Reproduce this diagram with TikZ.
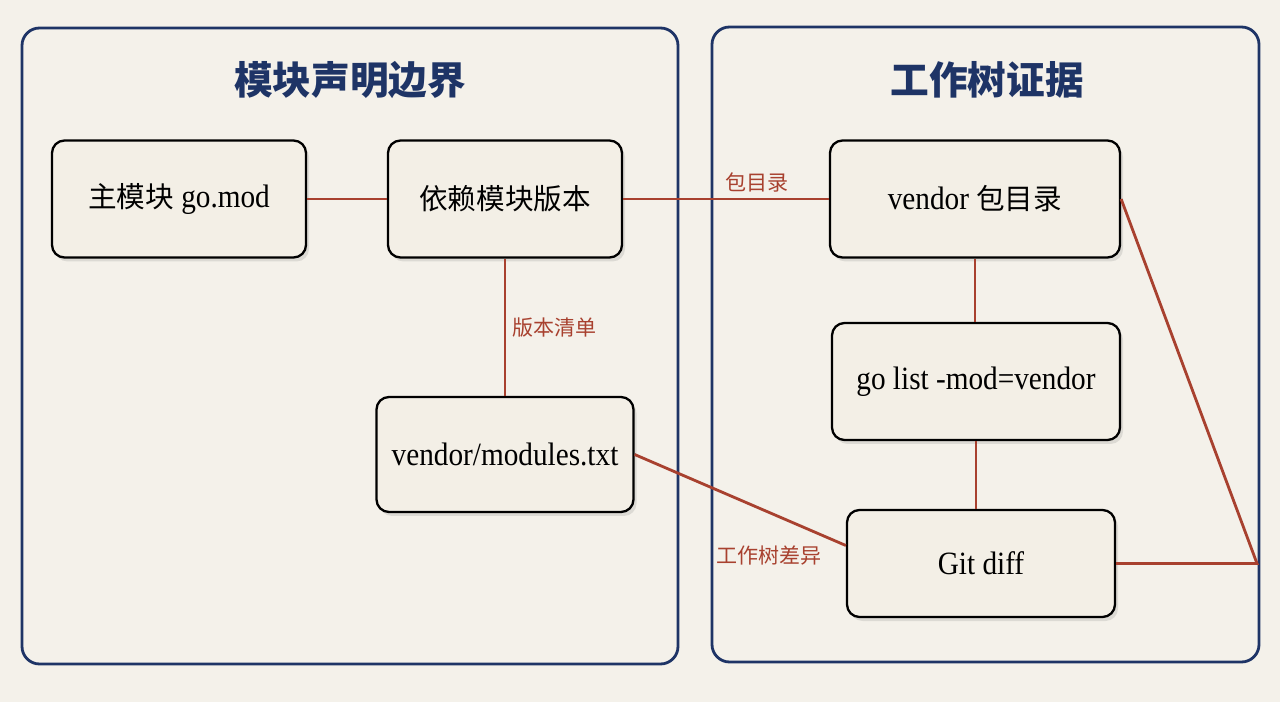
\documentclass[tikz,border=0pt]{standalone}
\usepackage{fontspec}
\setmainfont{Liberation Serif}[FakeStretch=0.9]
\newfontfamily\cjk{Noto Sans CJK SC}[Scale=0.88]
\usepackage{tikz}
\usetikzlibrary{
  calc,
  positioning,
  shadows
}
\definecolor{paper}{HTML}{F4F1EA}
\definecolor{cardfill}{HTML}{F3EFE6}
\definecolor{navy}{HTML}{1E3466}
\definecolor{rust}{HTML}{A8412F}

\begin{document}
\begin{tikzpicture}[
  box/.style={draw=black,line width=1.3,fill=cardfill,rounded corners=0.25cm,
    minimum height=2.34cm,align=center,font=\fontsize{18.5}{20}\selectfont,
    drop shadow={opacity=0.2,shadow xshift=0.06cm,shadow yshift=-0.08cm}},
  frame/.style={draw=navy,line width=1.6,rounded corners=0.35cm},
  link/.style={draw=rust,line width=1.6},
  tag/.style={text=rust,font=\cjk\fontsize{13.6}{15}\selectfont},
  title/.style={text=navy,font=\cjk\bfseries\fontsize{25}{28}\selectfont}
]
  \fill[paper] (0, 0) rectangle (25.6, -14.04);

  % the two panels
  \draw[frame] (0.44, -0.56) rectangle (13.56, -13.28);
  \draw[frame] (14.24, -0.54) rectangle (25.18, -13.24);
  \node[title] at (7.0, -1.6) (Left Title) {模块声明边界};
  \node[title] at (19.74, -1.6) (Right Title) {工作树证据};

  \node[box,minimum width=5.08cm] at (3.58, -3.98) (Main Mod) {{\cjk 主模块} go.mod};
  \node[box,minimum width=4.68cm] at (10.10, -3.98) (Dep Version) {{\cjk 依赖模块版本}};
  \node[box,minimum width=5.14cm,minimum height=2.30cm] at (10.10, -9.09) (Modules Txt) {vendor/modules.txt};

  \node[box,minimum width=5.80cm] at (19.50, -3.98) (Vendor Dir) {vendor {\cjk 包目录}};
  \node[box,minimum width=5.76cm] at (19.52, -7.63) (Go List) {go list -mod=vendor};
  \node[box,minimum width=5.36cm,minimum height=2.14cm] at (19.62, -11.27) (Git Diff) {Git diff};

  \coordinate (Corner) at (25.14, -11.27);

  \draw[link] (Main Mod) -- (Dep Version);
  \draw[link] (Dep Version) -- node[tag,above,pos=0.65] {包目录} (Vendor Dir);
  \draw[link] (Dep Version.south) -- node[tag,right] {版本清单} (Modules Txt.north);
  \draw[link] (Modules Txt.east) -- node[tag,below left,pos=0.92] {工作树差异}
  ([yshift=0.36cm]Git Diff.west);
  \draw[link] (Vendor Dir.south) -- (Vendor Dir.south |- Go List.north);
  \draw[link] (Go List.south) -- (Go List.south |- Git Diff.north);
  \draw[link] (Vendor Dir.east) -- (Corner) -- (Git Diff.east);
\end{tikzpicture}
\end{document}
